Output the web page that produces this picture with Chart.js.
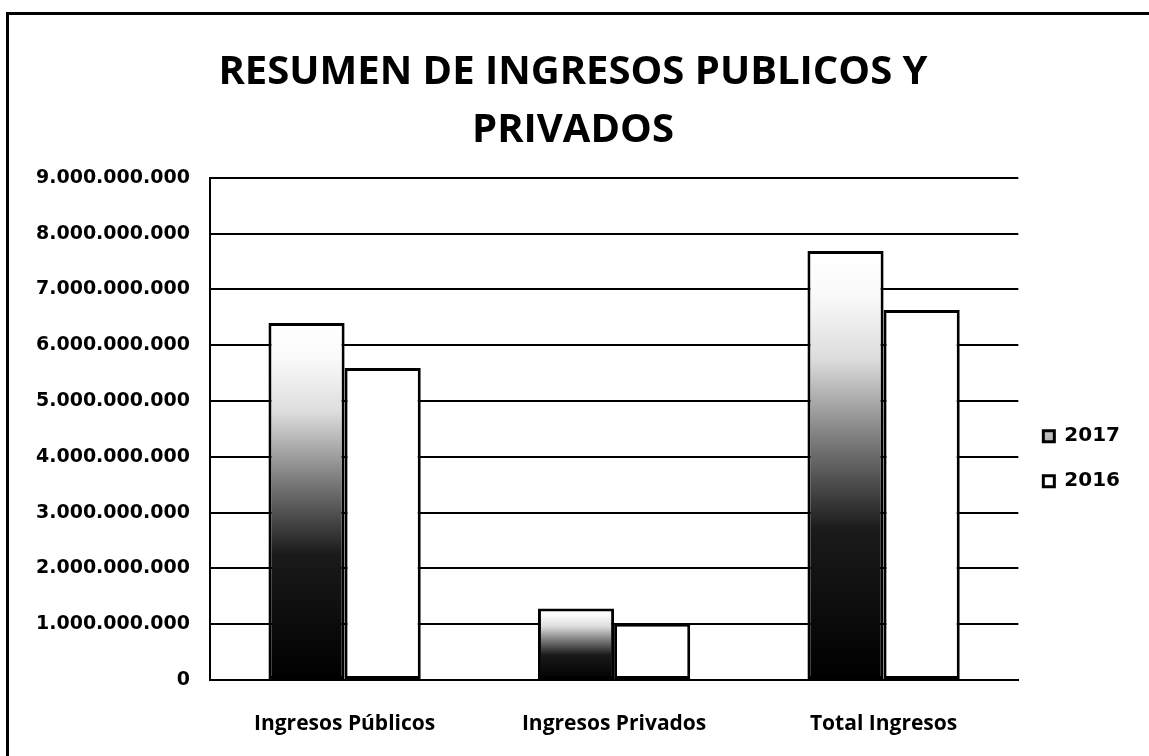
<!DOCTYPE html>
<html>
<head>
<meta charset="utf-8">
<script src="https://cdn.jsdelivr.net/npm/chart.js@4"></script>
<style>
  html, body { margin: 0; padding: 0; background: #fff; overflow: hidden; }
  .frame { position: absolute; left: 6px; top: 12px; right: 0; bottom: 0; border-top: 3px solid #000; border-left: 3px solid #000; }
  #wrap { position: absolute; left: 0; top: 0; width: 1149px; height: 756px; }
</style>
</head>
<body>
<div class="frame"></div>
<div id="wrap"><canvas id="chart"></canvas></div>
<script>
// ── Data ───────────────────────────────────────────
const categories = ['Ingresos Públicos', 'Ingresos Privados', 'Total Ingresos'];
const values2017 = [6400000000, 1280000000, 7690000000];
const values2016 = [5590000000, 1010000000, 6630000000];
const yTicks = [0, 1e9, 2e9, 3e9, 4e9, 5e9, 6e9, 7e9, 8e9, 9e9];

const FONT = "'Open Sans','Liberation Sans',sans-serif";
const WIDE = "'DejaVu Sans',sans-serif";

function fmt(v) {
    return String(Math.round(v)).replace(/\B(?=(\d{3})+(?!\d))/g, '.');
}

// dark at the base, fading to white near the top of each bar
function barGradient(ctx) {
    const chart = ctx.chart;
    if (!chart.chartArea || !ctx.parsed) return '#666';
    const y = chart.scales.y;
    const y0 = y.getPixelForValue(0);
    const y1 = y.getPixelForValue(ctx.parsed.y);
    const g = chart.ctx.createLinearGradient(0, y0, 0, y1);
    g.addColorStop(0, '#000');
    g.addColorStop(0.35, '#1a1a1a');
    g.addColorStop(0.55, '#777');
    g.addColorStop(0.75, '#ddd');
    g.addColorStop(0.9, '#fafafa');
    g.addColorStop(1, '#fff');
    return g;
}

new Chart(document.getElementById('chart'), {
    type: 'bar',
    data: {
        labels: categories,
        datasets: [
            {
                label: '2017',
                data: values2017,
                backgroundColor: barGradient,
                borderColor: '#000',
                borderWidth: 3,
                borderSkipped: false
            },
            {
                label: '2016',
                data: values2016,
                backgroundColor: '#fff',
                borderColor: '#000',
                borderWidth: 3,
                borderSkipped: false
            }
        ]
    },
    options: {
        responsive: true,
        maintainAspectRatio: false,
        animation: false,
        layout: { padding: { left: 16, right: 19, top: 43, bottom: 20 } },
        datasets: { bar: { barPercentage: 1, categoryPercentage: 0.565 } },
        plugins: {
            title: {
                display: true,
                text: ['RESUMEN DE INGRESOS PUBLICOS Y', 'PRIVADOS'],
                color: '#000',
                font: { family: FONT, size: 40, weight: 'bold', lineHeight: 1.46 },
                padding: { top: 0, bottom: 18 }
            },
            legend: {
                position: 'right',
                title: { display: true, text: '', padding: { top: 0, bottom: 124 } },
                labels: {
                    color: '#000',
                    font: { family: WIDE, size: 20, weight: 'bold' },
                    boxWidth: 11,
                    boxHeight: 11,
                    padding: 25
                }
            },
            tooltip: { enabled: false }
        },
        scales: {
            x: {
                grid: { display: false },
                border: { color: '#000', width: 2 },
                afterFit: axis => { axis.height = 56; },
                ticks: {
                    color: '#000',
                    font: { family: FONT, size: 21, weight: 'bold' },
                    padding: 23
                }
            },
            y: {
                min: 0,
                max: 9e9,
                afterBuildTicks: axis => { axis.ticks = yTicks.map(v => ({ value: v })); },
                grid: { color: '#000', lineWidth: 2, drawTicks: false },
                border: { color: '#000', width: 2 },
                ticks: {
                    color: '#000',
                    font: { family: WIDE, size: 19, weight: 'bold' },
                    padding: 20,
                    callback: v => fmt(v)
                }
            }
        }
    }
});
</script>
</body>
</html>
